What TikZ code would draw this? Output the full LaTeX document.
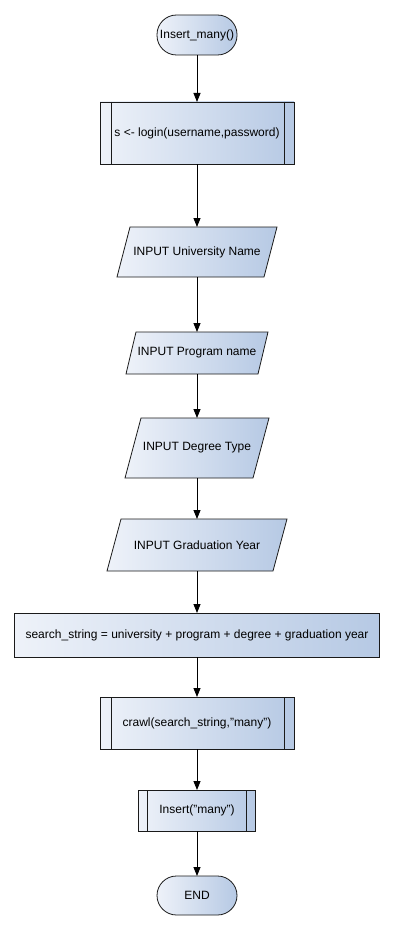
\documentclass[tikz,border=0pt]{standalone}
\usepackage{fontspec}
\setmainfont{Liberation Sans}
\usetikzlibrary{arrows.meta,backgrounds}
\definecolor{boxL}{HTML}{EEF2F9}
\definecolor{boxR}{HTML}{B6C9E4}
\definecolor{edge}{HTML}{1A1A1A}
\begin{document}
\begin{tikzpicture}[x=1pt,y=-1pt,
  lbl/.style={inner sep=0pt, outer sep=0pt, font=\fontsize{12}{14}\selectfont},
  fillbox/.style={lbl, draw=edge, line width=0.8pt, left color=boxL, right color=boxR},
  terminal/.style={fillbox, rounded corners=19.5pt},
  iobox/.style={lbl},
  shapefill/.style={draw=edge, line width=0.8pt, left color=boxL, right color=boxR, line join=miter},
  bar/.style={draw=edge, line width=0.8pt},
  flow/.style={draw=black, line width=0.8pt, -{Triangle[width=7pt,length=9pt]}}
]
\useasboundingbox (0,0) rectangle (394,931);

% start / end terminals
\node[terminal, minimum width=80pt, minimum height=40pt] (start) at (197,35) {Insert\_many()};
\node[terminal, minimum width=80pt, minimum height=39pt] (stop) at (197,895.5) {END};

% predefined process: login
\node[fillbox, minimum width=194pt, minimum height=62pt] (login) at (197,133) {s <- login(username,password)};
\draw[bar] ([xshift=11pt]login.north west) -- ([xshift=11pt]login.south west);
\draw[bar] ([xshift=-10pt]login.north east) -- ([xshift=-10pt]login.south east);

% input parallelograms (node holds text, outline drawn behind)
\node[iobox, minimum width=160pt, minimum height=50pt] (uni) at (197,252) {INPUT University Name};
\node[iobox, minimum width=142pt, minimum height=42pt] (prog) at (197,353) {INPUT Program name};
\node[iobox, minimum width=144pt, minimum height=60pt] (deg) at (197,448) {INPUT Degree Type};
\node[iobox, minimum width=180pt, minimum height=52pt] (grad) at (197,545) {INPUT Graduation Year};
\begin{scope}[on background layer]
  \path[shapefill] ([xshift=13pt]uni.north west) -- (uni.north east) -- ([xshift=-13pt]uni.south east) -- (uni.south west) -- cycle;
  \path[shapefill] ([xshift=10pt]prog.north west) -- (prog.north east) -- ([xshift=-10pt]prog.south east) -- (prog.south west) -- cycle;
  \path[shapefill] ([xshift=16pt]deg.north west) -- (deg.north east) -- ([xshift=-16pt]deg.south east) -- (deg.south west) -- cycle;
  \path[shapefill] ([xshift=14pt]grad.north west) -- (grad.north east) -- ([xshift=-14pt]grad.south east) -- (grad.south west) -- cycle;
\end{scope}

% plain process
\node[fillbox, minimum width=365pt, minimum height=44pt] (search) at (197,635) {search\_string = university + program + degree + graduation year};

% predefined process: crawl
\node[fillbox, minimum width=194pt, minimum height=52pt] (crawl) at (197,723) {crawl(search\_string,"many")};
\draw[bar] ([xshift=11pt]crawl.north west) -- ([xshift=11pt]crawl.south west);
\draw[bar] ([xshift=-10pt]crawl.north east) -- ([xshift=-10pt]crawl.south east);

% predefined process: insert
\node[fillbox, minimum width=117pt, minimum height=41pt] (ins) at (197,810.5) {Insert("many")};
\draw[bar] ([xshift=9pt]ins.north west) -- ([xshift=9pt]ins.south west);
\draw[bar] ([xshift=-9pt]ins.north east) -- ([xshift=-9pt]ins.south east);

% connectors
\draw[flow] (start) -- (login);
\draw[flow] (login) -- (uni);
\draw[flow] (uni) -- (prog);
\draw[flow] (prog) -- (deg);
\draw[flow] (deg) -- (grad);
\draw[flow] (grad) -- (search);
\draw[flow] (search) -- (crawl);
\draw[flow] (crawl) -- (ins);
\draw[flow] (ins) -- (stop);
\end{tikzpicture}
\end{document}
